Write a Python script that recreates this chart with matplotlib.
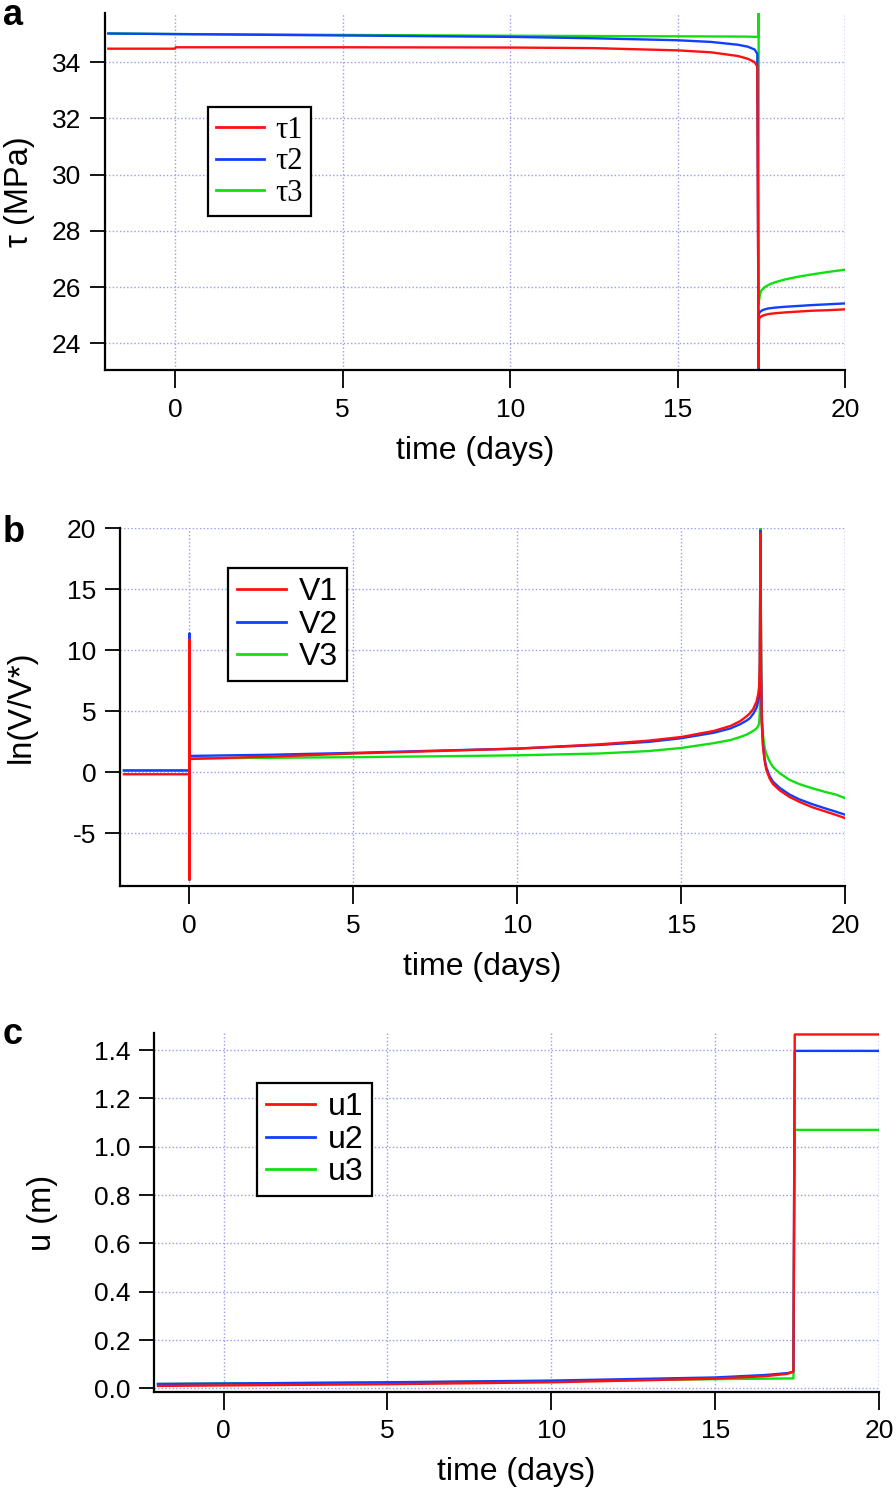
import matplotlib
matplotlib.use("Agg")
import matplotlib.pyplot as plt
from matplotlib.lines import Line2D

# ---- data (time in days) ----
# panel a: shear stress tau (MPa)
ta_red = [-2, -0.01, 0.01, 5, 10, 12.5, 15, 16, 16.8, 17.1, 17.3, 17.38, 17.42,
          17.43, 17.46, 17.55, 17.7, 17.9, 18.2, 18.6, 19.0, 19.5, 20]
tau1 = [34.48, 34.48, 34.53, 34.53, 34.52, 34.5, 34.42, 34.35, 34.22, 34.12, 34.0, 33.85, 23.15,
        24.85, 24.93, 24.99, 25.04, 25.07, 25.1, 25.13, 25.16, 25.18, 25.21]
ta_blue = [-2, 0, 5, 10, 12.5, 15, 16, 16.8, 17.1, 17.3, 17.38, 17.42,
           17.43, 17.46, 17.55, 17.7, 17.9, 18.2, 18.6, 19.0, 19.5, 20]
tau2 = [35.02, 35.0, 34.95, 34.9, 34.85, 34.78, 34.72, 34.62, 34.55, 34.45, 34.3, 23.1,
        25.05, 25.12, 25.19, 25.24, 25.27, 25.3, 25.33, 25.36, 25.39, 25.42]
ta_green = [-2, 0, 5, 10, 12.5, 15, 17.0, 17.41, 17.42, 17.42,
            17.43, 17.46, 17.5, 17.6, 17.75, 17.9, 18.2, 18.6, 19.0, 19.5, 20]
tau3 = [35.02, 35.0, 34.97, 34.94, 34.93, 34.92, 34.91, 34.9, 35.8, 25.4,
        25.5, 25.75, 25.88, 26.0, 26.1, 26.17, 26.27, 26.37, 26.45, 26.54, 26.62]

# panel b: ln(V/V*)
tb = [-2, -0.001, 0, 0, 0.001, 2.5, 5, 7.5, 10, 12.5, 14, 15, 16, 16.5, 16.8, 17.0, 17.1, 17.2,
      17.3, 17.35, 17.38, 17.4, 17.42, 17.44, 17.46, 17.5, 17.55, 17.6, 17.7, 17.8, 18.0,
      18.3, 18.6, 19.0, 19.4, 19.7, 20]
lnV1 = [-0.15, -0.15, 10.9, -8.8, 1.1, 1.3, 1.55, 1.75, 1.95, 2.3, 2.6, 2.9, 3.4, 3.8, 4.2, 4.6, 4.85, 5.2,
        5.8, 6.4, 7.0, 9.0, 19.6, 8.0, 4.0, 2.0, 0.9, 0.2, -0.5, -0.95, -1.45,
        -2.0, -2.4, -2.85, -3.2, -3.46, -3.74]
lnV2 = [0.16, 0.16, 11.4, -8.8, 1.35, 1.45, 1.6, 1.78, 1.95, 2.25, 2.5, 2.8, 3.25, 3.6, 3.95, 4.25, 4.45, 4.8,
        5.3, 5.8, 6.3, 8.0, 19.8, 8.5, 4.3, 2.2, 1.1, 0.4, -0.3, -0.75, -1.25,
        -1.8, -2.2, -2.6, -2.95, -3.2, -3.46]
lnV3 = [0.16, 0.16, 11.0, -8.8, 1.15, 1.2, 1.25, 1.32, 1.4, 1.55, 1.75, 2.0, 2.4, 2.65, 2.9, 3.1, 3.25, 3.4,
        3.6, 3.8, 4.0, 5.0, 20.0, 10.0, 5.0, 3.0, 2.0, 1.5, 0.9, 0.45, -0.05,
        -0.6, -0.95, -1.3, -1.6, -1.8, -2.1]

# panel c: slip u (m)
tc_red = [-2, 0, 5, 10, 15, 16.5, 17.2, 17.38, 17.42, 20]
u1 = [0.01, 0.012, 0.017, 0.025, 0.04, 0.05, 0.06, 0.07, 1.465, 1.465]
tc_blue = [-2, 0, 5, 10, 15, 16.5, 17.2, 17.38, 17.42, 20]
u2 = [0.018, 0.02, 0.025, 0.032, 0.045, 0.055, 0.063, 0.068, 1.397, 1.397]
tc_green = [-2, 0, 5, 10, 15, 17.38, 17.42, 20]
u3 = [0.018, 0.02, 0.024, 0.03, 0.038, 0.041, 1.07, 1.07]

xticks = [0, 5, 10, 15, 20]
RED, BLUE, GREEN = "#ff1010", "#1040ff", "#10e010"
GRID = "#9a9aee"

plt.rcParams["font.family"] = ["Liberation Sans", "DejaVu Sans"]
plt.rcParams["axes.unicode_minus"] = False

fig = plt.figure(figsize=(8.96, 14.91), dpi=100)


def style_axes(ax, xlim, ylim, yticks, yfmt):
    ax.set_xlim(*xlim)
    ax.set_ylim(*ylim)
    ax.set_xticks(xticks)
    ax.set_yticks(yticks)
    ax.set_yticklabels([yfmt.format(v) for v in yticks])
    for s in ("top", "right"):
        ax.spines[s].set_visible(False)
    for s in ("left", "bottom"):
        ax.spines[s].set_linewidth(1.6)
    ax.tick_params(axis="x", direction="out", length=13, width=1.3, pad=7, labelsize=19)
    ax.tick_params(axis="y", direction="out", length=11, width=1.3, pad=6, labelsize=19)
    ax.grid(True, color=GRID, linestyle=(0, (1, 1.6)), linewidth=1.0)
    ax.set_axisbelow(True)
    # dotted vertical line at the right edge
    ax.axvline(20, color=GRID, linestyle=(0, (1, 1.6)), linewidth=1.0, zorder=0)
    ax.set_xlabel("time (days)", fontsize=23, labelpad=10)


def add_legend(ax, labels, anchor, fsize, family):
    handles = [Line2D([], [], color=c, lw=2.0) for c in (RED, BLUE, GREEN)]
    leg = ax.legend(handles, labels, loc="upper left", bbox_to_anchor=anchor,
                    borderaxespad=0, fancybox=False, framealpha=1, edgecolor="black",
                    handlelength=1.55, handletextpad=0.38, labelspacing=0.08,
                    borderpad=0.28, prop={"family": family, "size": fsize})
    leg.get_frame().set_linewidth(1.6)


# ---- panel a ----
ax1 = fig.add_axes([0.1172, 0.7518, 0.8259, 0.2395])
ax1.plot(ta_green, tau3, color=GREEN, lw=1.7)
ax1.plot(ta_blue, tau2, color=BLUE, lw=1.7)
ax1.plot(ta_red, tau1, color=RED, lw=1.7)
style_axes(ax1, (-2.1, 20), (23.05, 35.75), [24, 26, 28, 30, 32, 34], "{:d}")
ax1.set_ylabel("τ (MPa)", fontsize=23.5)
ax1.yaxis.set_label_coords(-0.095, 0.5)
add_legend(ax1, ["τ1", "τ2", "τ3"], (0.139, 0.736), 22, ["Liberation Serif", "DejaVu Serif"])
fig.text(0.003, 0.9835, "a", fontsize=26, fontweight="bold")

# ---- panel b ----
ax2 = fig.add_axes([0.1339, 0.4058, 0.8092, 0.2399])
ax2.plot(tb, lnV3, color=GREEN, lw=1.7)
ax2.plot(tb, lnV2, color=BLUE, lw=1.7)
ax2.plot(tb, lnV1, color=RED, lw=1.7)
style_axes(ax2, (-2.12, 20), (-9.3, 20), [-5, 0, 5, 10, 15, 20], "{:d}")
ax2.set_ylabel("ln(V/V*)", fontsize=23.5)
ax2.yaxis.set_label_coords(-0.115, 0.5)
add_legend(ax2, ["V1", "V2", "V3"], (0.149, 0.888), 23, ["Liberation Sans", "DejaVu Sans"])
fig.text(0.003, 0.6365, "b", fontsize=26, fontweight="bold")

# ---- panel c ----
ax3 = fig.add_axes([0.1719, 0.0666, 0.8095, 0.2404])
ax3.plot(tc_green, u3, color=GREEN, lw=1.7)
ax3.plot(tc_blue, u2, color=BLUE, lw=1.7)
ax3.plot(tc_red, u1, color=RED, lw=1.7)
style_axes(ax3, (-2.12, 20), (-0.014, 1.47), [0.0, 0.2, 0.4, 0.6, 0.8, 1.0, 1.2, 1.4], "{:.1f}")
ax3.set_ylabel("u (m)", fontsize=23.5)
ax3.yaxis.set_label_coords(-0.132, 0.5)
add_legend(ax3, ["u1", "u2", "u3"], (0.142, 0.86), 23, ["Liberation Sans", "DejaVu Sans"])
fig.text(0.003, 0.2995, "c", fontsize=26, fontweight="bold")

fig.savefig("out.png", dpi=100)
